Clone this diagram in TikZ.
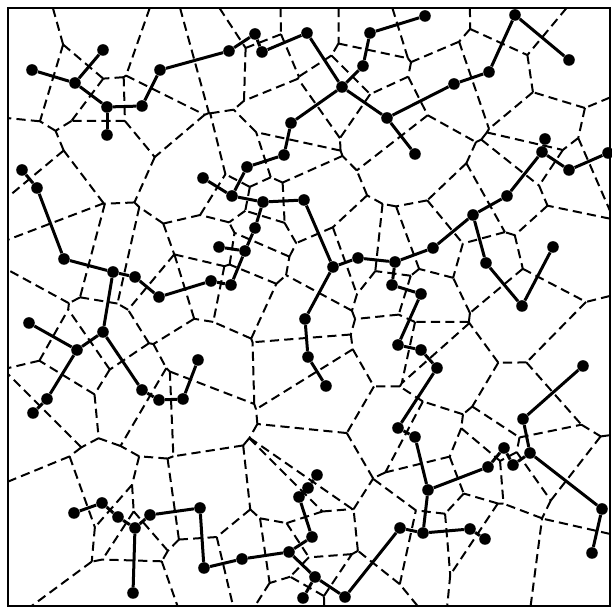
\documentclass[tikz,border=0pt]{standalone}
\pgfdeclarelayer{bg}
\pgfsetlayers{bg,main}
\ExplSyntaxOn
\int_new:N \g_vor_N_int
\intarray_new:Nn \g_vor_sx_intarray { 400 }
\intarray_new:Nn \g_vor_sy_intarray { 400 }
\intarray_new:Nn \g_vor_px_intarray { 256 }
\intarray_new:Nn \g_vor_py_intarray { 256 }
\intarray_new:Nn \g_vor_pl_intarray { 256 }
\intarray_new:Nn \g_vor_qx_intarray { 256 }
\intarray_new:Nn \g_vor_qy_intarray { 256 }
\intarray_new:Nn \g_vor_ql_intarray { 256 }
\int_new:N \l_vor_i_int
\int_new:N \l_vor_xi_int
\int_new:N \l_vor_yi_int
\int_new:N \l_vor_dx_int
\int_new:N \l_vor_dy_int
\int_new:N \l_vor_a_int
\int_new:N \l_vor_b_int
\int_new:N \l_vor_c_int
\int_new:N \l_vor_lab_int
\int_new:N \l_vor_n_int
\int_new:N \l_vor_m_int
\int_new:N \l_vor_k_int
\int_new:N \l_vor_ax_int
\int_new:N \l_vor_ay_int
\int_new:N \l_vor_bx_int
\int_new:N \l_vor_by_int
\int_new:N \l_vor_fp_int
\int_new:N \l_vor_fq_int
\bool_new:N \l_vor_cut_bool
\tl_new:N \g_vor_path_tl
\int_const:Nn \c_vor_rsq_int { 4160 * 4160 }

\cs_new_protected:Npn \vor_site:nn #1#2
  {
    \int_gincr:N \g_vor_N_int
    \intarray_gset:Nnn \g_vor_sx_intarray { \g_vor_N_int } { 16 * (#1) }
    \intarray_gset:Nnn \g_vor_sy_intarray { \g_vor_N_int } { 16 * (#2) }
  }
\cs_new_protected:Npn \__vor_emit:nnn #1#2#3
  {
    \int_incr:N \l_vor_m_int
    \intarray_gset:Nnn \g_vor_qx_intarray { \l_vor_m_int } {#1}
    \intarray_gset:Nnn \g_vor_qy_intarray { \l_vor_m_int } {#2}
    \intarray_gset:Nnn \g_vor_ql_intarray { \l_vor_m_int } {#3}
  }
\cs_new_protected:Npn \__vor_emit_cut:n #1
  {
    \__vor_emit:nnn
      { \l_vor_ax_int + ( \l_vor_bx_int - \l_vor_ax_int ) * \l_vor_fp_int / ( \l_vor_fp_int - \l_vor_fq_int ) }
      { \l_vor_ay_int + ( \l_vor_by_int - \l_vor_ay_int ) * \l_vor_fp_int / ( \l_vor_fp_int - \l_vor_fq_int ) }
      {#1}
  }
\cs_new_protected:Npn \__vor_copy:n #1
  {
    \intarray_gset:Nnn \g_vor_px_intarray {#1} { \intarray_item:Nn \g_vor_qx_intarray {#1} }
    \intarray_gset:Nnn \g_vor_py_intarray {#1} { \intarray_item:Nn \g_vor_qy_intarray {#1} }
    \intarray_gset:Nnn \g_vor_pl_intarray {#1} { \intarray_item:Nn \g_vor_ql_intarray {#1} }
  }
\cs_new_protected:Npn \__vor_clip_edge:n #1
  {
    \int_set:Nn \l_vor_k_int { \int_mod:nn {#1} { \l_vor_n_int } + 1 }
    \int_set:Nn \l_vor_ax_int { \intarray_item:Nn \g_vor_px_intarray {#1} }
    \int_set:Nn \l_vor_ay_int { \intarray_item:Nn \g_vor_py_intarray {#1} }
    \int_set:Nn \l_vor_bx_int { \intarray_item:Nn \g_vor_px_intarray { \l_vor_k_int } }
    \int_set:Nn \l_vor_by_int { \intarray_item:Nn \g_vor_py_intarray { \l_vor_k_int } }
    \int_set:Nn \l_vor_fp_int { \l_vor_a_int * \l_vor_ax_int + \l_vor_b_int * \l_vor_ay_int - \l_vor_c_int }
    \int_set:Nn \l_vor_fq_int { \l_vor_a_int * \l_vor_bx_int + \l_vor_b_int * \l_vor_by_int - \l_vor_c_int }
    \int_compare:nNnTF { \l_vor_fp_int } > { 0 }
      {
        \bool_set_true:N \l_vor_cut_bool
        \int_compare:nNnF { \l_vor_fq_int } > { 0 }
          { \__vor_emit_cut:n { \intarray_item:Nn \g_vor_pl_intarray {#1} } }
      }
      {
        \__vor_emit:nnn { \l_vor_ax_int } { \l_vor_ay_int } { \intarray_item:Nn \g_vor_pl_intarray {#1} }
        \int_compare:nNnT { \l_vor_fq_int } > { 0 }
          { \__vor_emit_cut:n { \l_vor_lab_int } }
      }
  }
\cs_new_protected:Npn \__vor_clip:nnnn #1#2#3#4
  {
    \int_set:Nn \l_vor_a_int {#1}
    \int_set:Nn \l_vor_b_int {#2}
    \int_set:Nn \l_vor_c_int {#3}
    \int_set:Nn \l_vor_lab_int {#4}
    \int_zero:N \l_vor_m_int
    \bool_set_false:N \l_vor_cut_bool
    \int_step_function:nN { \l_vor_n_int } \__vor_clip_edge:n
    \bool_if:NT \l_vor_cut_bool
      {
        \int_set_eq:NN \l_vor_n_int \l_vor_m_int
        \int_step_function:nN { \l_vor_n_int } \__vor_copy:n
      }
  }
\cs_new_protected:Npn \__vor_neighbour:n #1
  {
    \int_compare:nNnF {#1} = { \l_vor_i_int }
      {
        \int_set:Nn \l_vor_dx_int { \intarray_item:Nn \g_vor_sx_intarray {#1} - \l_vor_xi_int }
        \int_set:Nn \l_vor_dy_int { \intarray_item:Nn \g_vor_sy_intarray {#1} - \l_vor_yi_int }
        \int_compare:nNnT
          { \l_vor_dx_int * \l_vor_dx_int + \l_vor_dy_int * \l_vor_dy_int } < { \c_vor_rsq_int }
          {
            \__vor_clip:nnnn
              { 2 * \l_vor_dx_int }
              { 2 * \l_vor_dy_int }
              { ( 2 * \l_vor_xi_int + \l_vor_dx_int ) * \l_vor_dx_int
                + ( 2 * \l_vor_yi_int + \l_vor_dy_int ) * \l_vor_dy_int }
              {#1}
          }
      }
  }
\cs_new_protected:Npn \__vor_setp:nnnn #1#2#3#4
  {
    \intarray_gset:Nnn \g_vor_px_intarray {#1} {#2}
    \intarray_gset:Nnn \g_vor_py_intarray {#1} {#3}
    \intarray_gset:Nnn \g_vor_pl_intarray {#1} {#4}
  }
\cs_new_protected:Npn \__vor_output:n #1
  {
    \int_compare:nNnT { \intarray_item:Nn \g_vor_pl_intarray {#1} } > { \l_vor_i_int }
      {
        \int_set:Nn \l_vor_k_int { \int_mod:nn {#1} { \l_vor_n_int } + 1 }
        \tl_gput_right:Nx \g_vor_path_tl
          {
            ( \int_eval:n { \intarray_item:Nn \g_vor_px_intarray {#1} } ,
              \int_eval:n { \intarray_item:Nn \g_vor_py_intarray {#1} } )
            --
            ( \int_eval:n { \intarray_item:Nn \g_vor_px_intarray { \l_vor_k_int } } ,
              \int_eval:n { \intarray_item:Nn \g_vor_py_intarray { \l_vor_k_int } } )
          }
      }
  }
\cs_new_protected:Npn \__vor_cell:n #1
  {
    \int_set:Nn \l_vor_i_int {#1}
    \int_set:Nn \l_vor_xi_int { \intarray_item:Nn \g_vor_sx_intarray {#1} }
    \int_set:Nn \l_vor_yi_int { \intarray_item:Nn \g_vor_sy_intarray {#1} }
    \int_set:Nn \l_vor_n_int { 4 }
    \__vor_setp:nnnn { 1 } { 128 } { 128 } { 0 }
    \__vor_setp:nnnn { 2 } { 9760 } { 128 } { 0 }
    \__vor_setp:nnnn { 3 } { 9760 } { 9696 } { 0 }
    \__vor_setp:nnnn { 4 } { 128 } { 9696 } { 0 }
    \int_step_function:nN { \g_vor_N_int } \__vor_neighbour:n
    \int_step_function:nN { \l_vor_n_int } \__vor_output:n
  }
\NewDocumentCommand \VSite { m m } { \vor_site:nn {#1} {#2} }
\NewDocumentCommand \VorCompute { } { \int_step_function:nN { \g_vor_N_int } \__vor_cell:n }
\NewDocumentCommand \VorDraw { m }
  { \use:x { \exp_not:n { \draw [#1] } \exp_not:V \g_vor_path_tl ; } }
\ExplSyntaxOff
\newcommand\TreeNode[3]{\VSite{#2}{#3}\node[dot] (#1) at (#2,#3) {};}
\begin{document}
\begin{tikzpicture}[x=0.5pt,y=-0.5pt,
  dot/.style={circle,fill=black,inner sep=0pt,minimum size=5.8pt},
  tree/.style={line width=1.5pt},
  vor/.style={x=0.03125pt,y=-0.03125pt,line width=1pt,dash pattern=on 4.6pt off 2.6pt},
  frame/.style={line width=1.3pt}]
\useasboundingbox (0,0) rectangle (612,608);
\TreeNode{A1}{32}{70}
\TreeNode{A2}{75}{83}
\TreeNode{A3}{103}{50}
\TreeNode{A4}{107}{107}
\TreeNode{A5}{107}{135}
\TreeNode{A6}{142}{106}
\TreeNode{A7}{160}{70}
\TreeNode{B1}{229}{51}
\TreeNode{B2}{255}{34}
\TreeNode{B3}{262}{52}
\TreeNode{B4}{307}{33}
\TreeNode{C1}{342}{87}
\TreeNode{C2}{363}{66}
\TreeNode{C3}{370}{33}
\TreeNode{C4}{425}{16}
\TreeNode{C5}{387}{118}
\TreeNode{C6}{415}{154}
\TreeNode{C7}{454}{84}
\TreeNode{C8}{489}{72}
\TreeNode{C9}{515}{15}
\TreeNode{C10}{569}{60}
\TreeNode{D1}{291}{123}
\TreeNode{D2}{284}{155}
\TreeNode{D3}{247}{167}
\TreeNode{D4}{232}{196}
\TreeNode{D5}{203}{178}
\TreeNode{D6}{263}{202}
\TreeNode{D7}{304}{200}
\TreeNode{E1}{333}{267}
\TreeNode{E2}{358}{258}
\TreeNode{E3}{395}{262}
\TreeNode{E4}{433}{248}
\TreeNode{E5}{473}{215}
\TreeNode{E6}{507}{196}
\TreeNode{E7}{542}{152}
\TreeNode{E8}{545}{139}
\TreeNode{E9}{569}{170}
\TreeNode{E10}{608}{153}
\TreeNode{F1}{486}{263}
\TreeNode{F2}{522}{306}
\TreeNode{F3}{553}{247}
\TreeNode{G1}{305}{319}
\TreeNode{G2}{308}{357}
\TreeNode{G3}{326}{386}
\TreeNode{H1}{392}{285}
\TreeNode{H2}{421}{294}
\TreeNode{I1}{398}{345}
\TreeNode{I2}{421}{350}
\TreeNode{I3}{437}{368}
\TreeNode{I4}{398}{428}
\TreeNode{I5}{415}{437}
\TreeNode{I6}{428}{490}
\TreeNode{I7}{488}{467}
\TreeNode{I8}{504}{448}
\TreeNode{I9}{513}{465}
\TreeNode{I10}{530}{453}
\TreeNode{I11}{523}{419}
\TreeNode{I12}{583}{366}
\TreeNode{I13}{602}{509}
\TreeNode{I14}{592}{553}
\TreeNode{I15}{423}{533}
\TreeNode{I16}{400}{528}
\TreeNode{I17}{345}{597}
\TreeNode{I18}{470}{529}
\TreeNode{I19}{485}{539}
\TreeNode{J1}{22}{170}
\TreeNode{J2}{37}{188}
\TreeNode{J3}{64}{259}
\TreeNode{J4}{113}{272}
\TreeNode{J5}{135}{277}
\TreeNode{J6}{159}{297}
\TreeNode{J7}{211}{281}
\TreeNode{L1}{255}{228}
\TreeNode{L2}{245}{251}
\TreeNode{L3}{231}{285}
\TreeNode{L4}{219}{247}
\TreeNode{K1}{103}{332}
\TreeNode{K2}{77}{350}
\TreeNode{K3}{29}{323}
\TreeNode{K4}{47}{399}
\TreeNode{K5}{33}{413}
\TreeNode{K6}{142}{390}
\TreeNode{K7}{159}{400}
\TreeNode{K8}{183}{399}
\TreeNode{K9}{198}{360}
\TreeNode{M1}{74}{513}
\TreeNode{M2}{102}{503}
\TreeNode{M3}{118}{517}
\TreeNode{M4}{135}{528}
\TreeNode{M5}{150}{515}
\TreeNode{M6}{200}{508}
\TreeNode{M7}{133}{593}
\TreeNode{M8}{204}{568}
\TreeNode{M9}{242}{559}
\TreeNode{M10}{289}{552}
\TreeNode{M11}{312}{537}
\TreeNode{M12}{299}{497}
\TreeNode{M13}{308}{488}
\TreeNode{M14}{317}{475}
\TreeNode{M15}{315}{577}
\TreeNode{M16}{303}{598}
\VorCompute
\begin{pgfonlayer}{bg}
\VorDraw{vor}
\end{pgfonlayer}
\foreach \a/\b in {A1/A2,A2/A3,A2/A4,A4/A5,A4/A6,A6/A7,A7/B1,B1/B2,B2/B3,B3/B4,
  B4/C1,C1/C2,C2/C3,C3/C4,C1/C5,C5/C6,C5/C7,C7/C8,C8/C9,C9/C10,
  C1/D1,D1/D2,D2/D3,D3/D4,D4/D5,D4/D6,D6/D7,D7/E1,
  E1/E2,E2/E3,E3/E4,E4/E5,E5/E6,E6/E7,E7/E8,E7/E9,E9/E10,
  E5/F1,F1/F2,F2/F3,E1/G1,G1/G2,G2/G3,E3/H1,H1/H2,H2/I1,
  I1/I2,I2/I3,I3/I4,I4/I5,I5/I6,I6/I7,I7/I8,I8/I9,I9/I10,I10/I11,I11/I12,
  I10/I13,I13/I14,I6/I15,I15/I16,I16/I17,I15/I18,I18/I19,
  D6/L1,L1/L2,L2/L4,L2/L3,L3/J7,J7/J6,J6/J5,J5/J4,J4/J3,J3/J2,J2/J1,
  J4/K1,K1/K2,K2/K3,K2/K4,K4/K5,K1/K6,K6/K7,K7/K8,K8/K9,
  M1/M2,M2/M3,M3/M4,M4/M5,M5/M6,M4/M7,M6/M8,M8/M9,M9/M10,M10/M11,
  M11/M12,M12/M13,M13/M14,M10/M15,M15/M16,M15/I17}
  \draw[tree] (\a) -- (\b);
\draw[frame] (8,8) rectangle (610,606);
\end{tikzpicture}
\end{document}
